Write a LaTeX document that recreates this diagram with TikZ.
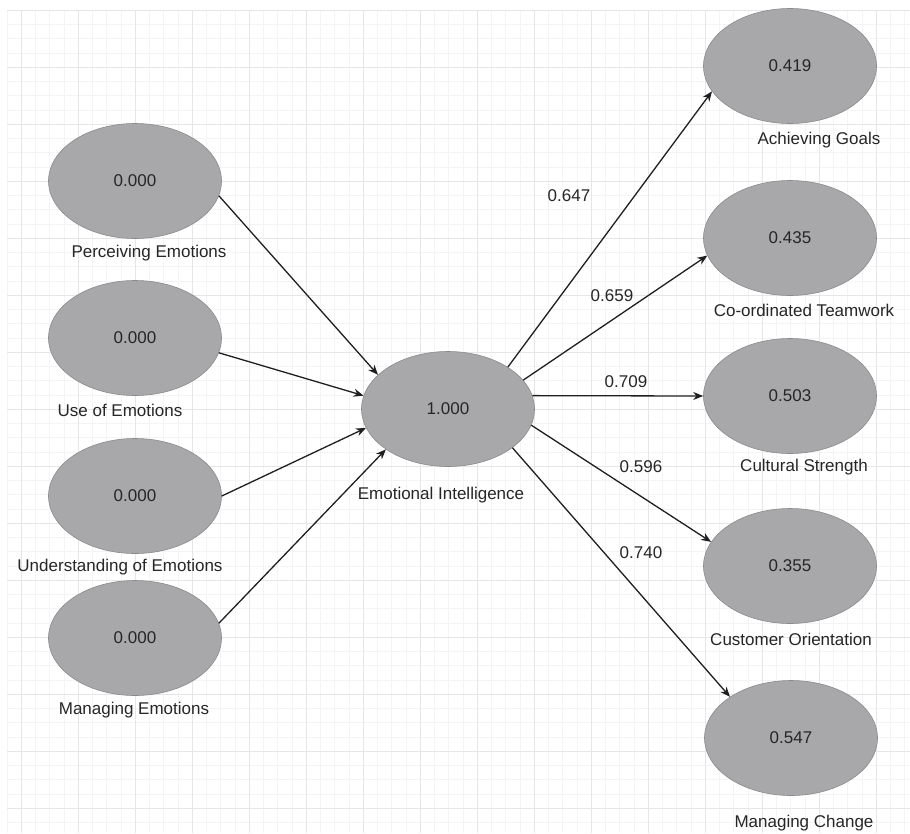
\documentclass[tikz,border=0pt]{standalone}
\usepackage{fontspec}
\setmainfont{Liberation Sans}
\usepackage{xcolor}
\usetikzlibrary{shapes.geometric, arrows.meta, positioning}
\definecolor{latentfill}{RGB}{168,168,171}
\definecolor{latentline}{RGB}{138,138,140}
\definecolor{labeltext}{RGB}{38,38,38}
\definecolor{gridmajor}{RGB}{230,230,230}
\definecolor{gridminor}{RGB}{244,244,244}
\tikzset{
    latent/.style={ellipse, draw=latentline, fill=latentfill, line width=0.6pt,
        minimum width=173pt, minimum height=115pt, inner sep=0pt,
        text=labeltext, font=\fontsize{17}{20}\selectfont},
    caption/.style={inner sep=0pt, text=labeltext, font=\fontsize{17}{20}\selectfont},
    coef/.style={inner sep=0pt, text=labeltext, font=\fontsize{17}{20}\selectfont},
    loading/.style={draw=black!88, line width=1.3pt, -{Stealth[length=10pt, width=8pt]}}
}

\begin{document}
\begin{tikzpicture}[x=1pt, y=-1pt]
    \useasboundingbox (0,0) rectangle (910,833);
    \fill[white] (0,0) rectangle (910,833);

    % Background grid
    \foreach \i in {0,...,63}
        \draw[gridminor, line width=0.5pt] ({6.75+14.25*\i},10) -- ({6.75+14.25*\i},833);
    \foreach \j in {0,...,57}
        \draw[gridminor, line width=0.5pt] (7,{10+14.25*\j}) -- (910,{10+14.25*\j});
    \foreach \i in {0,...,15}
        \draw[gridmajor, line width=0.8pt] ({21+57*\i},10) -- ({21+57*\i},833);
    \foreach \j in {0,...,14}
        \draw[gridmajor, line width=0.8pt] (7,{10+57*\j}) -- (910,{10+57*\j});

    % Exogenous constructs
    \node[latent] (pe) at (135,181) {0.000};
    \node[latent] (ue) at (135,338) {0.000};
    \node[latent] (ud) at (135,496) {0.000};
    \node[latent] (me) at (135,638) {0.000};

    % Central construct
    \node[latent] (ei) at (448,409) {1.000};

    % Outcome constructs
    \node[latent] (ag) at (790,66) {0.419};
    \node[latent] (ct) at (790,238) {0.435};
    \node[latent] (cs) at (790,396) {0.503};
    \node[latent] (co) at (790,566) {0.355};
    \node[latent] (mc) at (791,738) {0.547};

    % Construct names
    \node[caption] (pe-name) at (149,253) {Perceiving Emotions};
    \node[caption] (ue-name) at (120,410) {Use of Emotions};
    \node[caption] (ud-name) at (120,567) {Understanding of Emotions};
    \node[caption] (me-name) at (134,710) {Managing Emotions};
    \node[caption] (ei-name) at (441,495) {Emotional Intelligence};
    \node[caption] (ag-name) at (819,140) {Achieving Goals};
    \node[caption] (ct-name) at (804,310) {Co-ordinated Teamwork};
    \node[caption] (cs-name) at (804,467) {Cultural Strength};
    \node[caption] (co-name) at (791,639) {Customer Orientation};
    \node[caption] (mc-name) at (804,823) {Managing Change};

    % Inner model paths
    \draw[loading] (pe.-10) -- (ei.154);
    \draw[loading] (ue.-10) -- (ei.171);
    \draw[loading] (ud.0) -- (ei.193);
    \draw[loading] (me.10) -- (ei.213);
    \draw[loading] (ei.35) -- (ag.198);
    \draw[loading] (ei.21) -- (ct.192);
    \draw[loading] (ei.9) -- (cs.west);
    \draw[loading] (ei.-11) -- (co.163);
    \draw[loading] (ei.-31) -- (mc.146);

    % Path coefficients
    \node[coef] (ag-coef) at (569,196) {0.647};
    \node[coef] (ct-coef) at (612,296) {0.659};
    \node[coef] (cs-coef) at (626,382) {0.709};
    \node[coef] (co-coef) at (641,467) {0.596};
    \node[coef] (mc-coef) at (641,553) {0.740};
\end{tikzpicture}
\end{document}
